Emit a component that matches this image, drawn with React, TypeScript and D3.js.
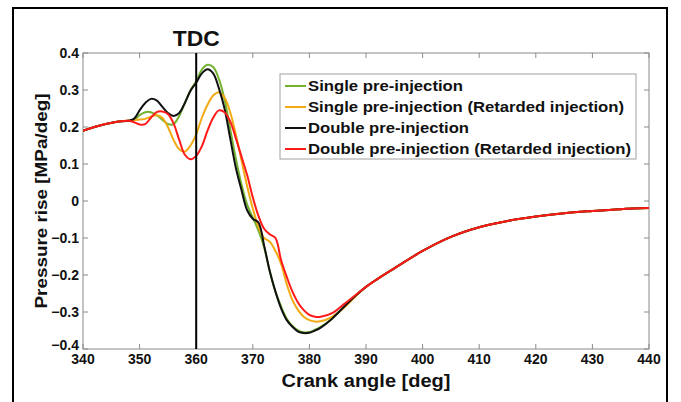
import React from "react";
import * as d3 from "d3";

const angles = [340, 342, 344, 346, 348, 349, 350, 351, 352, 353, 354, 355, 356, 357, 358, 359, 360, 361, 362, 363, 364, 365, 366, 367, 368, 369, 370, 371, 372, 373, 374, 375, 376, 377, 378, 379, 380, 381, 382, 384, 386, 388, 390, 392, 395, 400, 405, 410, 415, 420, 425, 430, 435, 440];

const tail = [-0.232, -0.211, -0.182, -0.135, -0.097, -0.071, -0.054, -0.042, -0.033, -0.027, -0.022, -0.019];
const head = [0.19, 0.2, 0.208, 0.214, 0.217];

const singlePre = [...head,
  0.22, 0.232, 0.24, 0.24, 0.232, 0.22, 0.208, 0.208, 0.23, 0.265, 0.3,
  0.324, 0.355, 0.368, 0.362, 0.33, 0.275, 0.195, 0.115, 0.045, -0.01,
  -0.045, -0.08, -0.125, -0.19, -0.245, -0.285, -0.318, -0.338, -0.35, -0.355,
  -0.354, -0.348, -0.34, -0.318, -0.288, -0.258, ...tail];

const singleRet = [...head,
  0.218, 0.22, 0.222, 0.228, 0.232, 0.225, 0.2, 0.165, 0.14, 0.134, 0.15,
  0.18, 0.225, 0.26, 0.285, 0.294, 0.28, 0.24, 0.18, 0.11, 0.04,
  -0.02, -0.07, -0.1, -0.11, -0.135, -0.17, -0.225, -0.268, -0.295, -0.313,
  -0.322, -0.326, -0.325, -0.313, -0.29, -0.26, ...tail];

const doublePre = [...head,
  0.222, 0.245, 0.265, 0.276, 0.272, 0.255, 0.238, 0.23, 0.238, 0.265, 0.298,
  0.32, 0.345, 0.356, 0.345, 0.305, 0.25, 0.17, 0.09, 0.03, -0.025,
  -0.048, -0.058, -0.12, -0.19, -0.245, -0.29, -0.322, -0.34, -0.353, -0.357,
  -0.356, -0.35, -0.342, -0.318, -0.288, -0.258, ...tail];

const doubleRet = [...head,
  0.213, 0.207, 0.208, 0.225, 0.24, 0.242, 0.235, 0.21, 0.165, 0.125, 0.113,
  0.122, 0.148, 0.19, 0.225, 0.245, 0.24, 0.215, 0.17, 0.12, 0.07,
  0.01, -0.04, -0.075, -0.09, -0.1, -0.16, -0.205, -0.245, -0.275, -0.295,
  -0.308, -0.313, -0.313, -0.303, -0.28, -0.256, ...tail];

const seriesNames = [
  "Single pre-injection",
  "Single pre-injection (Retarded injection)",
  "Double pre-injection",
  "Double pre-injection (Retarded injection)",
];
const seriesColors = ["#72b22e", "#f2aa12", "#111111", "#ff1a1a"];
const seriesValues = [singlePre, singleRet, doublePre, doubleRet];
const legendTextWidths = [155, 316, 161, 323];

const xTicks = [340, 350, 360, 370, 380, 390, 400, 410, 420, 430, 440];
const yTicks = [-0.4, -0.3, -0.2, -0.1, 0, 0.1, 0.2, 0.3, 0.4];
const tdcAngle = 360;

export default function App() {
  const left = 83, right = 649, top = 53, bottom = 349;
  const x = d3.scaleLinear().domain([340, 440]).range([left, right]);
  const y = d3.scaleLinear().domain([-0.4, 0.4]).range([bottom, top]);
  const line = d3
    .line<number>()
    .x((_, i) => x(angles[i]))
    .y((d) => y(d))
    .curve(d3.curveCatmullRom.alpha(0.5));
  const font = "Arial, 'Liberation Sans', sans-serif";
  const axisColor = "#8a8a8a";

  const legX = 280, legY = 74, legW = 356, legH = 85;

  return (
    <svg
      width={681}
      height={402}
      style={{ position: "absolute", left: 0, top: 0, background: "#fff" }}
      fontFamily={font}
    >
      <rect x={0} y={0} width={681} height={402} fill="#fff" />
      <rect x={13} y={8} width={654} height={420} fill="none" stroke="#000" strokeWidth={2} />
      <defs>
        <clipPath id="plotclip">
          <rect x={left} y={top} width={right - left} height={bottom - top} />
        </clipPath>
      </defs>
      <rect x={left} y={top} width={right - left} height={bottom - top} fill="#fff" stroke={axisColor} strokeWidth={1} />
      {xTicks.map((t) => (
        <g key={"xt" + t}>
          <line x1={x(t)} x2={x(t)} y1={bottom} y2={bottom - 5} stroke={axisColor} />
          <line x1={x(t)} x2={x(t)} y1={top} y2={top + 5} stroke={axisColor} />
          <text x={x(t)} y={bottom + 15} textAnchor="middle" fontSize={14} fontWeight="bold" fill="#111">
            {t}
          </text>
        </g>
      ))}
      {yTicks.map((t) => (
        <g key={"yt" + t}>
          <line x1={left} x2={left + 5} y1={y(t)} y2={y(t)} stroke={axisColor} />
          <line x1={right} x2={right - 5} y1={y(t)} y2={y(t)} stroke={axisColor} />
          <text x={left - 4} y={y(t) + (t === -0.4 ? 1 : 5)} textAnchor="end" fontSize={14} fontWeight="bold" fill="#111">
            {t === 0 ? "0" : d3.format(".1f")(t)}
          </text>
        </g>
      ))}
      <g clipPath="url(#plotclip)">
        {seriesValues.map((vals, si) => (
          <path
            key={seriesNames[si]}
            d={line(vals) || ""}
            fill="none"
            stroke={seriesColors[si]}
            strokeWidth={2}
            strokeLinejoin="round"
          />
        ))}
      </g>
      <line x1={x(tdcAngle)} x2={x(tdcAngle)} y1={top} y2={bottom} stroke="#000" strokeWidth={2} />
      <text x={x(tdcAngle)} y={46} textAnchor="middle" fontSize={22} fontWeight="bold" fill="#111" textLength={47} lengthAdjust="spacingAndGlyphs">
        TDC
      </text>
      <rect x={legX} y={legY} width={legW} height={legH} fill="#fff" stroke="#a0a0a0" strokeWidth={1} />
      {seriesNames.map((n, i) => (
        <g key={"lg" + i}>
          <line x1={legX + 5} x2={legX + 26} y1={legY + 12 + i * 21} y2={legY + 12 + i * 21} stroke={seriesColors[i]} strokeWidth={2} />
          <text
            x={legX + 28}
            y={legY + 17 + i * 21}
            fontSize={14}
            fontWeight="bold"
            fill="#111"
            textLength={legendTextWidths[i]}
            lengthAdjust="spacingAndGlyphs"
          >
            {n}
          </text>
        </g>
      ))}
      <text x={(left + right) / 2} y={387} textAnchor="middle" fontSize={18} fontWeight="bold" fill="#111" textLength={169} lengthAdjust="spacingAndGlyphs">
        Crank angle [deg]
      </text>
      <text
        transform={`translate(47, ${(top + bottom) / 2}) rotate(-90)`}
        textAnchor="middle"
        fontSize={17}
        fontWeight="bold"
        fill="#111"
        textLength={215}
        lengthAdjust="spacingAndGlyphs"
      >
        Pressure rise [MPa/deg]
      </text>
    </svg>
  );
}
